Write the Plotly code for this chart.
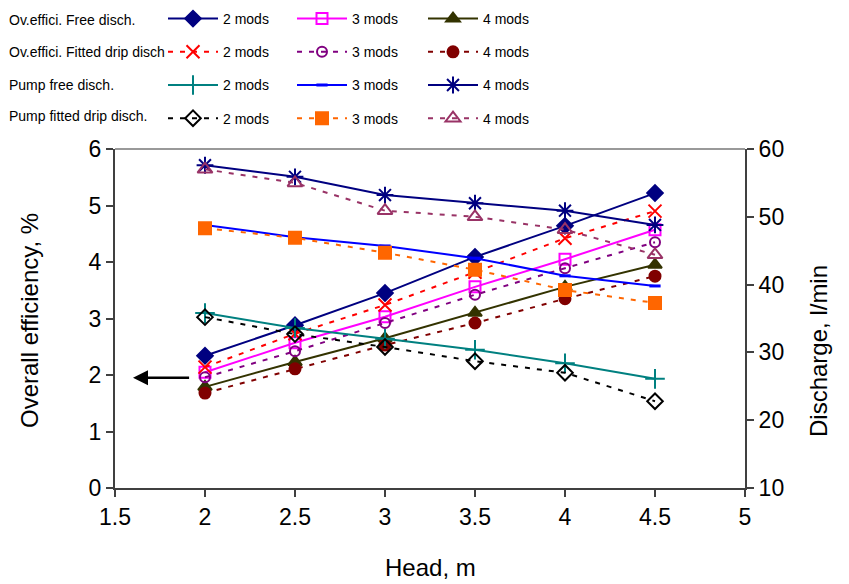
import plotly.graph_objects as go

head = [2, 2.5, 3, 3.5, 4, 4.5]

# Overall efficiency, % (left axis)
eff_free_2 = [2.34, 2.88, 3.45, 4.09, 4.64, 5.22]
eff_free_3 = [2.05, 2.57, 3.03, 3.56, 4.05, 4.57]
eff_free_4 = [1.79, 2.23, 2.65, 3.10, 3.56, 3.95]
eff_drip_2 = [2.14, 2.73, 3.24, 3.82, 4.42, 4.90]
eff_drip_3 = [1.96, 2.42, 2.92, 3.42, 3.89, 4.35]
eff_drip_4 = [1.68, 2.11, 2.53, 2.92, 3.35, 3.75]

# Discharge, l/min (right axis)
q_free_2 = [35.8, 33.6, 32.0, 30.4, 28.4, 26.1]
q_free_3 = [48.8, 47.0, 45.7, 43.9, 41.3, 39.8]
q_free_4 = [57.6, 55.9, 53.2, 52.0, 50.9, 48.8]
q_drip_2 = [35.2, 32.7, 30.8, 28.7, 27.0, 22.8]
q_drip_3 = [48.3, 46.9, 44.7, 42.2, 39.2, 37.3]
q_drip_4 = [57.0, 55.0, 50.9, 50.0, 48.1, 44.4]

row_labels = ["Ov.effici. Free disch.", "Ov.effici. Fitted drip disch",
              "Pump free disch.", "Pump fitted drip disch."]
mods_labels = ["2 mods", "3 mods", "4 mods"]
x_title = "Head, m"
y_title = "Overall efficiency, %"
y2_title = "Discharge, l/min"

DOT = "5px,7px"
series = [
    # (y, axis, color, dash, symbol, size, legend col, row)
    (eff_free_2, "y", "#000080", "solid", "diamond", 12, 0, 0),
    (eff_free_3, "y", "#FF00FF", "solid", "square-open", 11, 1, 0),
    (eff_free_4, "y", "#333300", "solid", "triangle-up", 12, 2, 0),
    (eff_drip_2, "y", "#FF0000", DOT, "x-thin-open", 13, 0, 1),
    (eff_drip_3, "y", "#800080", DOT, "circle-open", 10, 1, 1),
    (eff_drip_4, "y", "#800000", DOT, "circle", 11, 2, 1),
    (q_free_2, "y2", "#008080", "solid", "cross-thin-open", 14, 0, 2),
    (q_free_3, "y2", "#0000FF", "solid", "line-ew-open", 8, 1, 2),
    (q_free_4, "y2", "#000080", "solid", "asterisk-open", 14, 2, 2),
    (q_drip_2, "y2", "#000000", DOT, "diamond-open", 12, 0, 3),
    (q_drip_3, "y2", "#FF6600", DOT, "square", 12, 1, 3),
    (q_drip_4, "y2", "#993366", DOT, "triangle-up-open", 13, 2, 3),
]

legend_names = ["legend", "legend2", "legend3"]

fig = go.Figure()
for (ys, ax, col, dash, sym, size, lc, row) in series:
    mline = 3 if sym == "line-ew-open" else 2
    fig.add_trace(go.Scatter(
        x=head, y=ys, yaxis=ax, mode="lines+markers",
        name=mods_labels[lc],
        legend=legend_names[lc],
        legendgroup=f"g{lc}{row}",
        legendrank=row + 1,
        line=dict(color=col, width=2, dash=dash),
        marker=dict(symbol=sym, size=size, color=col,
                    line=dict(color=col, width=mline)),
    ))

W, H = 849, 584
ML, MR, MT, MB = 115, 104, 149, 96
PW, PH = W - ML - MR, H - MT - MB
col_x = [163, 292, 423]
legfont = dict(family="Liberation Sans, Arial", size=14, color="#000000")
leg_common = dict(
    orientation="v", xref="container", yref="container",
    yanchor="top", xanchor="left",
    font=legfont,
    bgcolor="rgba(0,0,0,0)", itemwidth=50, tracegroupgap=12,
    traceorder="grouped",
)
legs = {}
for i, ln in enumerate(legend_names):
    legs[ln] = dict(leg_common, x=col_x[i] / W, y=1 - 3 / H)


def px_x(px):
    return (px - ML) / PW


def px_y(py):
    return (H - MB - py) / PH


tickfont = dict(family="Liberation Sans, Arial", size=23, color="#000000")
titlefont = dict(family="Liberation Sans, Arial", size=24, color="#000000")

annotations = []
row_y = [20, 52, 85, 116]
for lbl, ry in zip(row_labels, row_y):
    annotations.append(dict(
        text=lbl, xref="paper", yref="paper", showarrow=False,
        x=px_x(7), y=px_y(ry), xanchor="left", yanchor="middle", font=legfont,
    ))
# axis titles
annotations.append(dict(text=x_title, xref="paper", yref="paper", showarrow=False,
                        x=px_x(430), y=px_y(567), xanchor="center", yanchor="middle", font=titlefont))
annotations.append(dict(text=y_title, xref="paper", yref="paper", showarrow=False, textangle=-90,
                        x=px_x(29), y=px_y(321), xanchor="center", yanchor="middle", font=titlefont))
annotations.append(dict(text=y2_title, xref="paper", yref="paper", showarrow=False, textangle=-90,
                        x=px_x(818), y=px_y(351), xanchor="center", yanchor="middle", font=titlefont))
# arrow pointing to left axis
annotations.append(dict(
    x=1.6, y=1.95, ax=1.92, ay=1.95, xref="x", yref="y", axref="x", ayref="y",
    text="", showarrow=True, arrowhead=2, arrowsize=1.2, arrowwidth=2.5, arrowcolor="#000000",
))

fig.update_layout(
    width=W, height=H,
    margin=dict(l=ML, r=MR, t=MT, b=MB, autoexpand=False),
    paper_bgcolor="white", plot_bgcolor="white",
    showlegend=True,
    annotations=annotations,
    xaxis=dict(range=[1.5, 5], dtick=0.5, showgrid=False, zeroline=False,
               showline=True, linecolor="#404040", linewidth=2,
               ticks="outside", ticklen=7, tickwidth=1.5, tickcolor="#404040",
               tickfont=tickfont),
    yaxis=dict(range=[0, 6], dtick=1, showgrid=False, zeroline=False,
               showline=True, linecolor="#404040", linewidth=2,
               ticks="outside", ticklen=7, tickwidth=1.5, tickcolor="#404040",
               tickfont=tickfont),
    yaxis2=dict(range=[10, 60], dtick=10, overlaying="y", side="right", anchor="x",
                showgrid=False, zeroline=False,
                showline=True, linecolor="#404040", linewidth=2,
                ticks="outside", ticklen=7, tickwidth=1.5, tickcolor="#404040",
                tickfont=tickfont),
    shapes=[dict(type="line", xref="paper", yref="paper", x0=0, x1=1, y0=1, y1=1,
                 line=dict(color="#999999", width=2))],
    **legs,
)

fig.write_html("out.html")
